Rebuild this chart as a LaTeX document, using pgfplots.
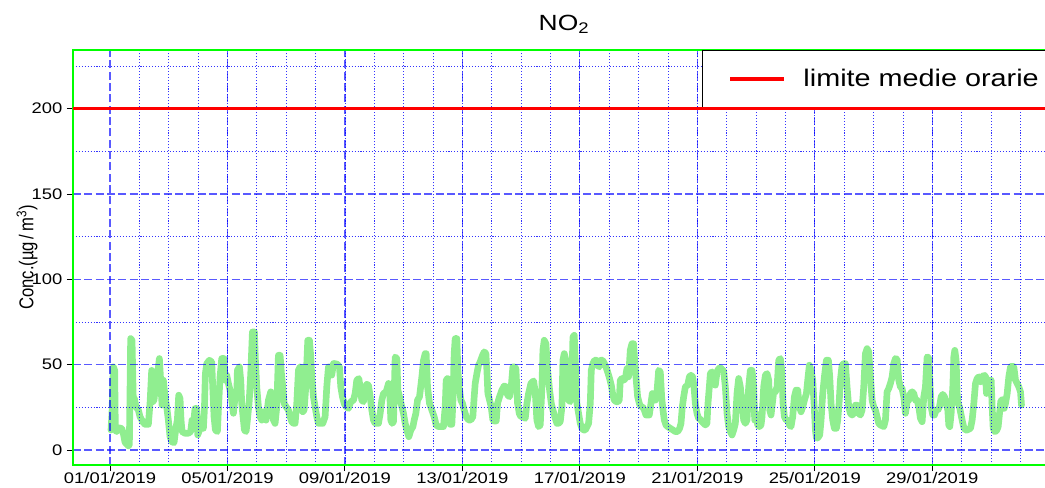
\documentclass[border=0pt]{standalone}
\usepackage{fontspec}
\setmainfont{Liberation Sans}[FakeStretch=1.2]
\newfontfamily\ylfont{Liberation Sans}
\usepackage{graphicx}
\usepackage{pgfplots}
\pgfplotsset{compat=1.18}
\definecolor{nogreen}{RGB}{144,238,144}
\definecolor{boxgreen}{RGB}{0,255,0}
\pgfplotstableread{
d v
0.034 11.7
0.068 21.4
0.114 48.7
0.159 46.7
0.182 11.7
0.227 10.8
0.307 13.0
0.397 12.6
0.454 9.7
0.511 4.5
0.625 2.4
0.659 3.0
0.704 65.3
0.750 64.3
0.795 27.3
0.829 30.2
0.886 25.3
0.965 23.4
1.022 19.5
1.113 16.6
1.192 15.0
1.306 15.0
1.363 27.3
1.420 46.7
1.454 28.3
1.499 29.2
1.567 40.9
1.613 42.9
1.681 53.6
1.738 37.0
1.772 26.3
1.817 40.9
1.874 31.2
1.931 25.3
1.987 17.5
2.044 7.8
2.101 4.9
2.181 4.3
2.249 13.6
2.294 17.5
2.340 32.1
2.385 30.2
2.419 17.5
2.453 10.8
2.555 9.8
2.669 9.8
2.748 10.8
2.794 17.5
2.839 14.6
2.896 24.3
2.953 24.3
2.987 8.8
3.066 12.7
3.180 12.7
3.214 23.4
3.248 44.8
3.294 50.6
3.384 52.6
3.464 51.6
3.498 37.0
3.543 19.5
3.589 11.7
3.657 10.8
3.702 27.3
3.748 42.9
3.805 53.6
3.884 53.6
3.918 40.9
3.975 43.8
4.032 39.0
4.089 35.1
4.145 29.2
4.202 21.5
4.236 27.3
4.270 32.1
4.316 31.2
4.338 46.7
4.407 48.7
4.452 40.9
4.486 27.3
4.543 17.5
4.577 11.7
4.634 10.8
4.679 17.5
4.736 27.3
4.793 44.8
4.850 69.2
4.918 69.2
4.952 52.6
4.997 37.0
5.054 25.3
5.111 19.5
5.168 17.5
5.224 22.4
5.281 18.5
5.315 17.5
5.395 29.2
5.474 34.1
5.520 29.2
5.565 17.5
5.622 15.6
5.679 25.3
5.735 55.5
5.792 55.5
5.838 44.8
5.883 37.0
5.929 27.3
5.997 25.3
6.076 23.4
6.133 19.5
6.190 16.6
6.246 15.6
6.303 15.6
6.360 27.3
6.417 46.8
6.474 48.7
6.530 47.7
6.565 22.4
6.610 23.4
6.667 37.0
6.701 50.7
6.735 64.3
6.792 64.3
6.837 54.6
6.871 42.9
6.928 31.2
6.985 25.3
7.042 19.5
7.098 15.6
7.178 15.6
7.246 15.6
7.325 19.5
7.382 37.0
7.439 48.7
7.496 48.7
7.552 43.9
7.609 50.7
7.666 50.6
7.745 50.2
7.814 48.7
7.859 37.0
7.916 31.2
7.973 27.3
8.041 25.3
8.120 24.4
8.200 28.3
8.291 29.2
8.348 33.1
8.404 40.9
8.472 41.9
8.518 37.0
8.575 29.2
8.631 28.3
8.688 37.0
8.745 38.5
8.802 38.0
8.859 31.2
8.916 23.4
8.972 17.5
9.029 15.6
9.086 15.6
9.143 15.6
9.200 21.4
9.256 29.2
9.313 33.1
9.404 34.1
9.484 39.0
9.518 37.0
9.563 17.5
9.609 15.6
9.654 16.6
9.711 54.5
9.768 53.6
9.802 35.1
9.859 31.2
9.938 25.3
9.995 21.4
10.052 15.6
10.108 11.7
10.176 7.8
10.245 11.7
10.313 13.6
10.358 17.5
10.415 21.4
10.472 29.2
10.540 31.2
10.620 42.9
10.676 52.6
10.733 56.5
10.766 56.5
10.812 37.0
10.880 27.3
10.960 23.4
11.039 19.5
11.107 14.6
11.187 13.7
11.266 13.7
11.357 13.7
11.414 25.3
11.448 40.9
11.493 41.9
11.539 37.0
11.584 15.0
11.641 15.0
11.675 27.3
11.720 56.5
11.755 65.3
11.811 65.3
11.845 46.8
11.891 37.0
11.948 29.2
12.005 27.3
12.061 23.4
12.129 19.5
12.209 17.6
12.288 17.6
12.356 19.5
12.402 31.2
12.436 39.0
12.493 44.8
12.550 49.7
12.606 51.7
12.686 55.5
12.743 57.5
12.800 56.5
12.834 46.8
12.868 33.1
12.925 29.2
12.981 25.3
13.038 17.5
13.084 17.0
13.152 17.0
13.197 27.3
13.265 31.2
13.345 35.1
13.424 37.5
13.492 37.0
13.538 32.2
13.606 31.2
13.663 37.0
13.719 48.7
13.776 48.7
13.822 47.7
13.879 27.3
13.936 21.4
13.992 19.5
14.060 19.5
14.140 18.5
14.197 27.3
14.253 33.1
14.333 39.0
14.424 40.5
14.480 34.1
14.537 17.5
14.594 13.7
14.651 14.6
14.708 37.0
14.742 58.5
14.787 64.3
14.844 62.3
14.901 46.8
14.969 35.1
15.026 27.3
15.083 23.4
15.162 18.5
15.219 15.6
15.276 15.6
15.332 16.6
15.389 25.3
15.423 52.6
15.469 56.5
15.525 52.6
15.559 37.0
15.616 29.2
15.673 28.3
15.730 42.9
15.764 66.2
15.809 67.2
15.855 46.8
15.900 27.3
15.957 21.4
16.014 15.6
16.071 12.7
16.127 11.7
16.184 11.7
16.241 13.6
16.298 15.6
16.355 27.3
16.389 46.8
16.445 50.7
16.502 52.6
16.559 52.6
16.604 49.7
16.661 48.7
16.718 52.6
16.775 52.6
16.832 50.7
16.888 48.7
16.945 45.8
17.013 41.9
17.070 38.0
17.115 33.1
17.172 29.2
17.240 28.3
17.297 28.3
17.342 29.2
17.376 40.9
17.433 41.9
17.490 40.9
17.547 41.9
17.604 47.7
17.660 42.9
17.717 58.5
17.774 62.3
17.831 62.3
17.865 52.6
17.910 42.9
17.967 31.2
18.024 27.3
18.081 25.3
18.137 25.3
18.194 23.4
18.251 20.5
18.308 20.5
18.364 20.5
18.421 27.3
18.467 33.1
18.512 31.2
18.569 29.2
18.626 34.1
18.683 46.7
18.739 45.8
18.785 31.2
18.830 23.4
18.876 17.5
18.933 14.6
18.989 13.7
19.080 12.7
19.171 11.7
19.251 10.8
19.330 10.8
19.398 12.7
19.444 15.6
19.489 25.3
19.535 31.2
19.591 37.0
19.671 38.0
19.728 42.9
19.784 43.8
19.841 42.9
19.887 37.0
19.932 27.3
19.989 21.4
20.045 18.5
20.102 18.0
20.159 16.6
20.216 15.6
20.273 14.7
20.329 15.6
20.363 27.3
20.409 37.0
20.443 44.8
20.500 45.8
20.556 42.9
20.613 38.0
20.670 45.8
20.727 47.7
20.784 48.2
20.840 47.3
20.897 46.3
20.954 37.0
21.011 21.4
21.068 13.6
21.124 10.8
21.181 8.8
21.238 11.7
21.295 15.6
21.351 33.1
21.408 41.9
21.465 37.0
21.522 27.3
21.579 17.5
21.635 15.6
21.692 17.5
21.749 37.0
21.806 46.7
21.863 46.7
21.919 37.0
21.953 17.5
21.999 21.4
22.055 14.6
22.112 13.7
22.169 14.6
22.203 19.5
22.237 29.2
22.260 37.0
22.317 43.8
22.374 44.8
22.431 40.9
22.465 23.4
22.510 20.5
22.555 27.3
22.601 34.1
22.658 34.1
22.715 37.0
22.771 52.6
22.828 53.6
22.874 46.8
22.919 27.3
22.964 19.5
23.021 17.5
23.078 17.5
23.135 14.6
23.191 13.7
23.248 19.5
23.305 31.2
23.362 35.1
23.419 35.1
23.475 25.3
23.532 22.4
23.589 25.3
23.646 29.2
23.714 33.1
23.771 42.9
23.816 49.7
23.873 46.8
23.930 40.9
23.987 23.4
24.021 11.7
24.055 6.9
24.111 7.3
24.168 8.8
24.214 17.5
24.270 33.1
24.327 42.9
24.395 52.6
24.463 52.6
24.509 42.9
24.554 27.3
24.611 17.5
24.668 12.7
24.736 12.7
24.781 17.5
24.827 27.3
24.872 40.9
24.929 49.7
24.986 50.7
25.043 50.6
25.099 37.0
25.156 25.3
25.213 21.4
25.270 20.5
25.327 21.4
25.383 26.3
25.440 26.3
25.497 21.4
25.554 20.5
25.610 23.4
25.667 37.0
25.724 56.5
25.781 59.4
25.838 57.5
25.894 42.9
25.951 29.2
26.008 25.3
26.065 23.4
26.122 19.5
26.178 15.6
26.235 14.6
26.292 14.2
26.349 13.7
26.405 17.5
26.462 34.1
26.519 36.1
26.576 39.0
26.633 42.9
26.689 50.7
26.746 53.6
26.803 53.1
26.860 40.9
26.916 37.0
26.973 36.0
27.030 31.2
27.087 21.5
27.144 28.3
27.201 29.2
27.257 33.1
27.314 34.1
27.371 33.1
27.428 29.2
27.484 29.2
27.541 25.3
27.598 18.5
27.655 16.6
27.712 31.2
27.768 37.0
27.825 54.5
27.882 54.1
27.927 37.0
27.961 25.3
28.018 20.5
28.075 20.5
28.132 23.4
28.189 23.4
28.245 25.3
28.302 31.2
28.359 32.6
28.416 31.2
28.472 27.3
28.529 23.4
28.563 14.6
28.597 13.7
28.643 21.4
28.700 37.0
28.734 54.6
28.768 58.4
28.813 52.6
28.847 33.1
28.881 27.3
28.927 25.3
28.972 21.4
29.017 17.5
29.074 13.2
29.131 11.7
29.188 11.7
29.245 12.2
29.302 12.7
29.358 17.5
29.415 27.3
29.472 39.0
29.529 41.9
29.585 42.9
29.642 40.0
29.699 42.9
29.756 43.8
29.813 43.4
29.847 33.1
29.892 37.0
29.949 40.9
30.006 40.9
30.040 25.3
30.074 12.7
30.131 10.8
30.187 11.2
30.244 13.6
30.290 21.4
30.335 28.7
30.403 29.7
30.448 24.4
30.494 27.3
30.551 33.1
30.607 42.9
30.664 48.7
30.721 49.2
30.778 48.7
30.835 40.9
30.891 39.0
30.948 37.0
31.005 34.1
31.039 26.3
}\nodata
\pgfplotstableread{
d v
-1.26 200
32.18 200
}\limitdata
\begin{document}
\begin{tikzpicture}
\begin{axis}[
  set layers=axis on top,
  at={(0,0)}, anchor=south west,
  scale only axis,
  width=736.5pt, height=311.25pt,
  xmin=-1.26, xmax=32.18,
  ymin=-8.79, ymax=234.4,
  xtick={0,4,...,28},
  xticklabels={01/01/2019,05/01/2019,09/01/2019,13/01/2019,17/01/2019,21/01/2019,25/01/2019,29/01/2019},
  minor xtick={1,2,...,31},
  ytick={0,50,...,200},
  minor ytick={25,75,...,225},
  grid=both,
  major grid style={blue, opacity=0.65, line width=0.85pt, dash pattern=on 6pt off 2.5pt},
  minor grid style={blue, opacity=0.8, line width=0.55pt, dash pattern=on 0.8pt off 1.4pt},
  axis line style={boxgreen, line width=2pt},
  tick style={black, line width=0.75pt},
  major tick length=4.5pt, minor tick length=0pt,
  tick align=outside,
  xtick pos=bottom, ytick pos=left,
  ticklabel style={font=\fontsize{11.5}{13}\selectfont},
  xticklabel style={yshift=2.5pt},
  /pgf/number format/assume math mode=true,
  title={NO\textsubscript{2}},
  title style={font=\fontsize{16.5}{19}\selectfont, at={(axis description cs:0.5,1)}, anchor=base, yshift=9pt},
  ylabel={\ylfont\scalebox{1}[1.2]{Conc.(µg\,/\,m\textsuperscript{3})}},
  every axis y label/.style={at={(axis description cs:-0.0468,0.5)}, rotate=90, anchor=center, font=\fontsize{12.5}{14}\selectfont},
  legend style={at={(axis description cs:0.6405,1)}, anchor=north west, draw=black, line width=0.75pt, fill=white,
    font=\fontsize{18}{21}\selectfont, inner xsep=19.5pt, inner ysep=12pt},
  legend image code/.code={\draw[#1] (0pt,0pt) -- (40.5pt,0pt); \path[draw=none] (40.5pt,0pt) -- (53pt,0pt);},
  legend cell align=left,
]
\addplot[nogreen, line width=5pt, line join=round, line cap=round, forget plot] table[x=d, y=v] {\nodata};
\addplot[red, line width=2.5pt, on layer=axis foreground] table[x=d, y=v] {\limitdata};
\addlegendentry{limite medie orarie}
\end{axis}
\pgfresetboundingbox
\useasboundingbox (-54.75pt,-16.5pt) rectangle (729pt,348.75pt);
\end{tikzpicture}
\end{document}
